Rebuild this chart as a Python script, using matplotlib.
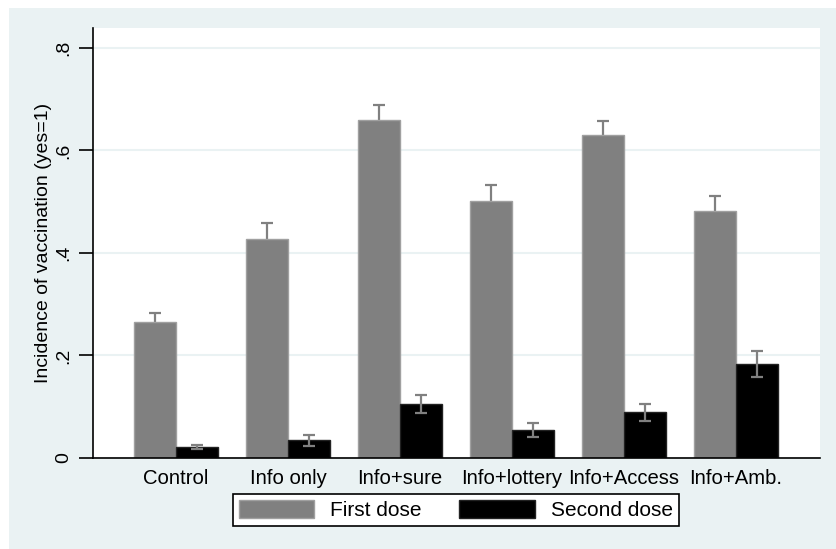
import numpy as np
import matplotlib.pyplot as plt
from matplotlib.patches import Rectangle

plt.rcParams['font.family'] = ['Liberation Sans', 'DejaVu Sans']

groups = ['Control', 'Info only', 'Info+sure', 'Info+lottery', 'Info+Access', 'Info+Amb.']
first_dose = [0.265, 0.428, 0.659, 0.502, 0.631, 0.481]
first_err = [0.018, 0.030, 0.030, 0.030, 0.027, 0.030]
second_dose = [0.022, 0.0345, 0.105, 0.055, 0.089, 0.184]
second_err = [0.004, 0.011, 0.018, 0.014, 0.017, 0.025]
yticks = [0, 0.2, 0.4, 0.6, 0.8]
ytick_labels = ['0', '.2', '.4', '.6', '.8']

W, H = 837, 549
fig = plt.figure(figsize=(W / 100, H / 100), dpi=100, facecolor='white')
bg = '#eaf2f3'
fig.patches.append(Rectangle((9 / W, -0.01), 1.0, (H - 8) / H + 0.01,
                             transform=fig.transFigure, facecolor=bg,
                             edgecolor='none', zorder=-10))

ax = fig.add_axes([93 / W, (H - 458) / H, 727 / W, 430 / H])
ax.set_facecolor('white')

x = np.arange(1, len(groups) + 1)
bw = 0.375
ax.bar(x - bw / 2, first_dose, bw, color='#808080', edgecolor='#a0a0a0',
       linewidth=1, label='First dose', zorder=2)
ax.bar(x + bw / 2, second_dose, bw, color='black', edgecolor='#222222',
       linewidth=1, label='Second dose', zorder=2)
ax.errorbar(x - bw / 2, first_dose, yerr=first_err, fmt='none', ecolor='#808080',
            elinewidth=1.6, capsize=4, capthick=1.6, zorder=1)
ax.errorbar(x + bw / 2, second_dose, yerr=second_err, fmt='none', ecolor='#808080',
            elinewidth=1.6, capsize=4, capthick=1.6, zorder=3)

ax.set_xlim(0.26, 6.75)
ax.set_ylim(0, 0.839)
ax.set_yticks(yticks)
ax.set_yticklabels(ytick_labels, rotation=90, va='center', fontsize=14)
ax.set_xticks(x)
ax.set_xticklabels(groups, fontsize=14.6)
ax.tick_params(axis='x', length=0, pad=8)
ax.tick_params(axis='y', length=10, width=1.2, direction='out', pad=5)
ax.yaxis.grid(True, color=bg, linewidth=1.5, zorder=0)
ax.set_axisbelow(True)

for s in ['top', 'right']:
    ax.spines[s].set_visible(False)
ax.spines['left'].set_linewidth(1.2)
ax.spines['bottom'].set_linewidth(1.2)

ax.set_ylabel('Incidence of vaccination (yes=1)', fontsize=14, labelpad=2)

leg = fig.legend(loc='center', bbox_to_anchor=(456 / W, (H - 510) / H), ncol=2,
                 fontsize=15, frameon=True, fancybox=False, handlelength=3.6,
                 handleheight=0.95, columnspacing=1.8, borderpad=0.3,
                 handletextpad=0.8, framealpha=1)
leg.get_frame().set_edgecolor('black')
leg.get_frame().set_linewidth(1.2)

fig.savefig('out.png', dpi=100, facecolor=fig.get_facecolor())
